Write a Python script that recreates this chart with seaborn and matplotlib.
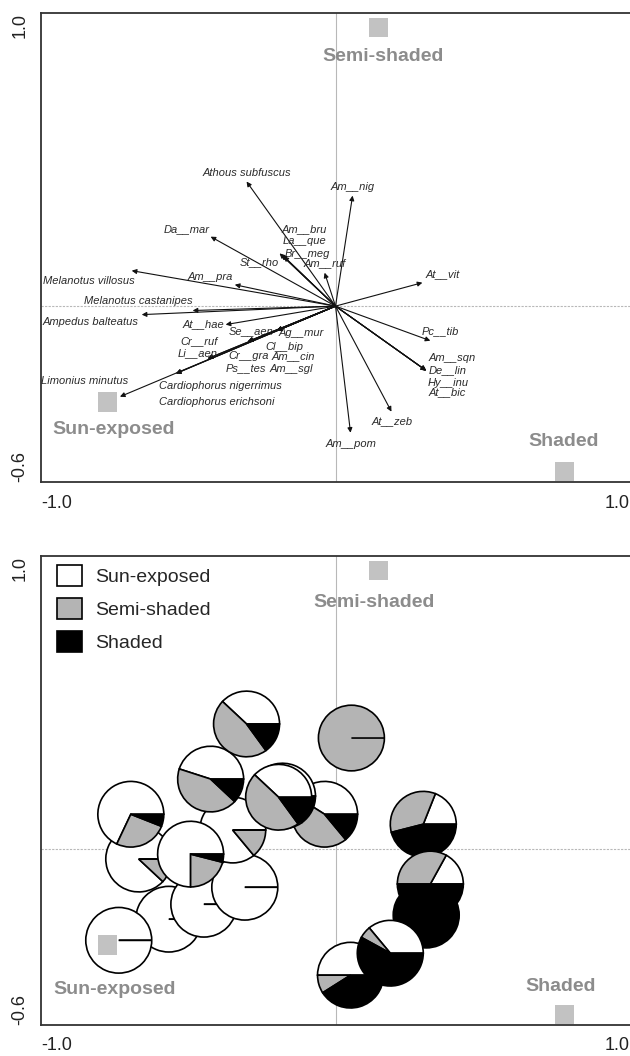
import matplotlib
matplotlib.use("Agg")
import matplotlib.pyplot as plt
import seaborn as sns
from matplotlib.patches import Patch

# species arrows (CCA biplot scores) and where their names sit
species = ["Athous subfuscus", "Am__nig", "Am__bru", "La__que", "Br__meg", "St__rho",
           "Am__ruf", "Da__mar", "Melanotus villosus", "Am__pra", "Melanotus castanipes",
           "Ampedus balteatus", "At__hae", "Se__aen", "Ag__mur", "Cr__ruf", "Li__aen",
           "Cl__bip", "Cr__gra", "Am__cin", "Ps__tes", "Am__sgl", "Limonius minutus",
           "Cardiophorus nigerrimus", "Cardiophorus erichsoni", "At__vit", "Pc__tib",
           "Am__sqn", "De__lin", "Hy__inu", "At__bic", "At__zeb", "Am__pom"]
arrow_x = [-0.302, 0.058, -0.183, -0.176, -0.190, -0.183, -0.037, -0.424, -0.692, -0.342,
           -0.485, -0.658, -0.373, -0.200, -0.200, -0.434, -0.434, -0.298, -0.298, -0.200,
           -0.298, -0.200, -0.732, -0.542, -0.542, 0.295, 0.322, 0.308, 0.308, 0.308,
           0.308, 0.190, 0.051]
arrow_y = [0.425, 0.377, 0.176, 0.170, 0.180, 0.176, 0.114, 0.237, 0.121, 0.073,
           -0.015, -0.029, -0.063, -0.084, -0.084, -0.179, -0.179, -0.121, -0.121, -0.084,
           -0.121, -0.084, -0.309, -0.230, -0.230, 0.080, -0.118, -0.220, -0.220, -0.220,
           -0.220, -0.360, -0.432]
label_x = [-0.302, 0.058, -0.105, -0.105, -0.095, -0.258, -0.037, -0.505, -0.837, -0.424,
           -0.671, -0.831, -0.447, -0.285, -0.115, -0.464, -0.468, -0.173, -0.295, -0.142,
           -0.305, -0.149, -0.851, -0.390, -0.403, 0.363, 0.356, 0.397, 0.380, 0.383,
           0.380, 0.193, 0.054]
label_y = [0.454, 0.408, 0.264, 0.223, 0.179, 0.149, 0.145, 0.264, 0.087, 0.101,
           0.019, -0.053, -0.063, -0.084, -0.090, -0.121, -0.159, -0.138, -0.169, -0.172,
           -0.213, -0.213, -0.254, -0.271, -0.326, 0.108, -0.084, -0.176, -0.220, -0.261,
           -0.295, -0.394, -0.469]

# habitat centroids
habitats = ["Sun-exposed", "Semi-shaded", "Shaded"]
hab_x = [-0.774, 0.146, 0.778]
hab_y = [-0.326, 0.950, -0.564]
hab_lab_top_x = [-0.755, 0.163, 0.776]
hab_lab_top_y = [-0.421, 0.851, -0.462]
hab_lab_bot_x = [-0.749, 0.132, 0.766]
hab_lab_bot_y = [-0.478, 0.840, -0.468]

# pies: share of each species' records per habitat (%), drawn in this order
pie_x = [-0.566, -0.736, -0.447, -0.308, -0.668, -0.349, -0.695, -0.492, -0.424, -0.302,
         -0.037, -0.180, -0.193, 0.054, 0.298, 0.308, 0.322, 0.051, 0.186]
pie_y = [-0.239, -0.311, -0.188, -0.130, -0.034, 0.065, 0.119, -0.017, 0.239, 0.427,
         0.119, 0.181, 0.177, 0.379, 0.085, -0.225, -0.119, -0.430, -0.355]
pie_sun = [100, 100, 100, 100, 88, 86, 68, 75, 45, 38, 41, 38, 38, 0, 19, 0, 17, 50, 36]
pie_semi = [0, 0, 0, 0, 12, 14, 26, 21, 43, 47, 45, 47, 47, 100, 35, 0, 33, 9, 6]
pie_shaded = [0, 0, 0, 0, 0, 0, 6, 4, 12, 15, 14, 15, 15, 0, 46, 100, 50, 41, 58]

hab_colors = ["white", "#b4b4b4", "black"]

sns.set_style("white")
plt.rcParams["font.family"] = ["Liberation Sans", "DejaVu Sans"]

fig = plt.figure(figsize=(6.3, 10.56), dpi=100)
ax1 = fig.add_axes([41 / 630, 574 / 1056, 589 / 630, 469 / 1056])
ax2 = fig.add_axes([41 / 630, 31 / 1056, 589 / 630, 469 / 1056])


def frame(ax):
    ax.axvline(0, color="#b8b8b8", lw=0.8, zorder=0.5)
    ax.axhline(0, color="#b8b8b8", lw=0.8, ls=(0, (2, 1.2)), zorder=0.5)
    sns.scatterplot(x=hab_x, y=hab_y, marker="s", s=200, color="#c2c2c2",
                    edgecolor="none", ax=ax, zorder=5, legend=False)
    ax.set_xlim(-1.0, 1.0)
    ax.set_ylim(-0.6, 1.0)
    ax.set_xticks([-1.0, -0.5, 0.0, 0.5, 1.0])
    ax.set_xticklabels(["-1.0", "", "", "", "1.0"], fontsize=13, color="#222222")
    xl = ax.get_xticklabels()
    xl[0].set_ha("left")
    xl[-1].set_ha("right")
    ax.set_yticks([-0.6, -0.4, -0.2, 0.0, 0.2, 0.4, 0.6, 0.8, 1.0])
    ax.set_yticklabels(["-0.6", "", "", "", "", "", "", "", "1.0"], fontsize=13,
                       rotation=90, color="#222222")
    yl = ax.get_yticklabels()
    yl[0].set_va("bottom")
    yl[-1].set_va("top")
    ax.tick_params(direction="out", length=4, width=1, color="#333333", pad=5)
    for side in ["left", "bottom", "top"]:
        ax.spines[side].set_color("#333333")
        ax.spines[side].set_linewidth(1.3)
    ax.spines["right"].set_visible(False)


# top panel: species arrows
for name, ax_, ay, lx, ly in zip(species, arrow_x, arrow_y, label_x, label_y):
    ax1.annotate("", xy=(ax_, ay), xytext=(0, 0),
                 arrowprops=dict(arrowstyle="-|>", color="#111111", lw=0.8,
                                 mutation_scale=7, shrinkA=0, shrinkB=0))
    ax1.text(lx, ly, name, fontsize=8, style="italic", ha="center", va="center",
             color="#2a2a2a")
frame(ax1)
for name, lx, ly in zip(habitats, hab_lab_top_x, hab_lab_top_y):
    ax1.text(lx, ly, name, fontsize=14, fontweight="bold", color="#8c8c8c",
             ha="center", va="center")

# bottom panel: pies of habitat shares
for px, py, a, b, c in zip(pie_x, pie_y, pie_sun, pie_semi, pie_shaded):
    ax2.pie([a, b, c], colors=hab_colors, center=(px, py), radius=0.112,
            startangle=0, counterclock=True, frame=True,
            wedgeprops=dict(edgecolor="black", linewidth=1.2))
frame(ax2)
ax2.set_aspect("auto")
for name, lx, ly in zip(habitats, hab_lab_bot_x, hab_lab_bot_y):
    ax2.text(lx, ly, name, fontsize=14, fontweight="bold", color="#8c8c8c",
             ha="center", va="center")

handles = [Patch(facecolor=col, edgecolor="black", linewidth=1.2) for col in hab_colors]
ax2.legend(handles, habitats, loc="upper left", bbox_to_anchor=(0.027, 0.981),
           frameon=False, fontsize=14, borderpad=0, borderaxespad=0,
           handlelength=1.3, handleheight=1.3, handletextpad=0.65, labelspacing=0.6)

fig.savefig("out.png", dpi=100)
